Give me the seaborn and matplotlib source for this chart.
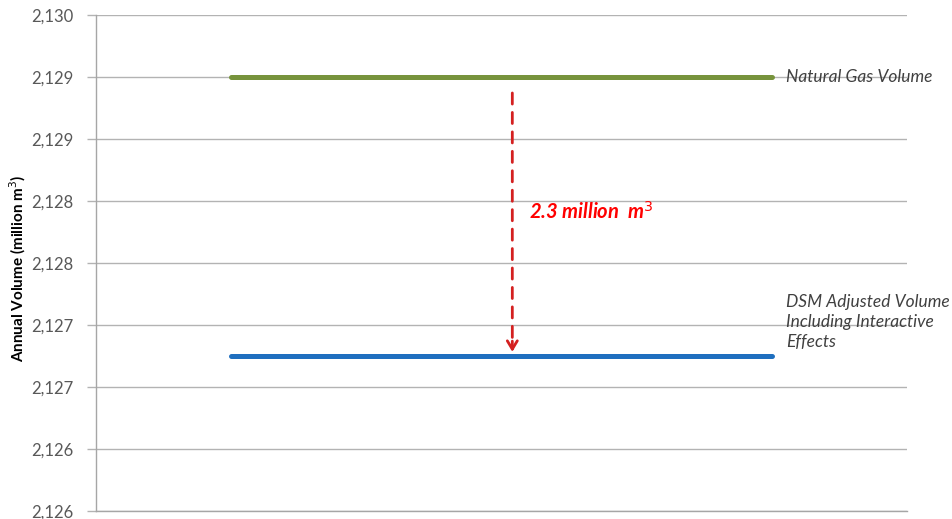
import math

import matplotlib

matplotlib.use("Agg")
import matplotlib.pyplot as plt
import pandas as pd
import seaborn as sns
from matplotlib.ticker import FuncFormatter, MultipleLocator

# Data
x_points = [0, 1]
series_names = ["Natural Gas Volume", "DSM Adjusted Volume\nIncluding Interactive\nEffects"]
natural_gas = [2129.0, 2129.0]
dsm_adjusted = [2126.75, 2126.75]
savings_label = "2.3 million  m$^{3}$"
y_label = "Annual Volume (million m$^{3}$)"

colors = ["#77933C", "#1F6FBF"]

df = pd.DataFrame(
    {
        "x": x_points * 2,
        "volume": natural_gas + dsm_adjusted,
        "series": [series_names[0]] * len(x_points) + [series_names[1]] * len(x_points),
    }
)

sns.set_theme(style="white")
plt.rcParams["font.family"] = ["Lato", "DejaVu Sans"]

fig = plt.figure(figsize=(9.53, 5.19), dpi=100)
ax = fig.add_axes([96 / 953, 1 - 511 / 519, (907 - 96) / 953, (511 - 15) / 519])

sns.lineplot(
    data=df,
    x="x",
    y="volume",
    hue="series",
    palette=colors,
    linewidth=3.6,
    legend=False,
    ax=ax,
)
for line in ax.get_lines():
    line.set_solid_capstyle("round")

ax.set_xlim(-0.25, 1.25)
ax.set_ylim(2125.5, 2129.5)
ax.yaxis.set_major_locator(MultipleLocator(0.5))
ax.yaxis.set_major_formatter(
    FuncFormatter(lambda v, _: f"{int(math.floor(v + 0.5)):,}")
)
ax.set_xticks([])
ax.set_xlabel("")
ax.set_ylabel(y_label, fontsize=11, fontweight="bold", color="#000000")
ax.yaxis.set_label_coords(-0.084, 0.49)

ax.grid(axis="y", color="#B3B3B3", linewidth=1)
ax.set_axisbelow(True)
ax.tick_params(axis="y", length=6.5, width=1, color="#B3B3B3",
               labelsize=12, pad=10, left=True, labelcolor="#595959")
for side in ["top", "right"]:
    ax.spines[side].set_visible(False)
for side in ["left", "bottom"]:
    ax.spines[side].set_color("#A6A6A6")
    ax.spines[side].set_linewidth(1)

# Series labels at the right end of each line
ax.annotate(series_names[0], xy=(x_points[-1], natural_gas[-1]), xytext=(10, 0),
            textcoords="offset points", va="center", ha="left",
            fontsize=12.5, style="italic", color="#404040")
ax.annotate(series_names[1], xy=(x_points[-1], dsm_adjusted[-1]), xytext=(10, 4),
            textcoords="offset points", va="bottom", ha="left",
            fontsize=12.5, style="italic", color="#404040", linespacing=1.33)

# Dashed drop arrow between the two volumes
mid_x = (x_points[0] + x_points[-1]) / 2 + 0.02
ax.annotate("", xy=(mid_x, dsm_adjusted[0]), xytext=(mid_x, natural_gas[0]),
            arrowprops=dict(arrowstyle="-", color="#D42020", linewidth=2,
                            linestyle=(0, (4, 3)), shrinkA=11.5, shrinkB=5))
ax.annotate("", xy=(mid_x, dsm_adjusted[0]), xytext=(mid_x, dsm_adjusted[0] + 0.12),
            arrowprops=dict(arrowstyle="->,head_length=0.5,head_width=0.3",
                            color="#D42020", linewidth=2, shrinkA=0, shrinkB=3))

mid_y = (natural_gas[0] + dsm_adjusted[0]) / 2
ax.annotate(savings_label, xy=(mid_x, mid_y), xytext=(12, 3),
            textcoords="offset points", va="center", ha="left",
            fontsize=14.5, fontweight="bold", style="italic", color="#FF0000")

fig.savefig("out.png", dpi=100)
